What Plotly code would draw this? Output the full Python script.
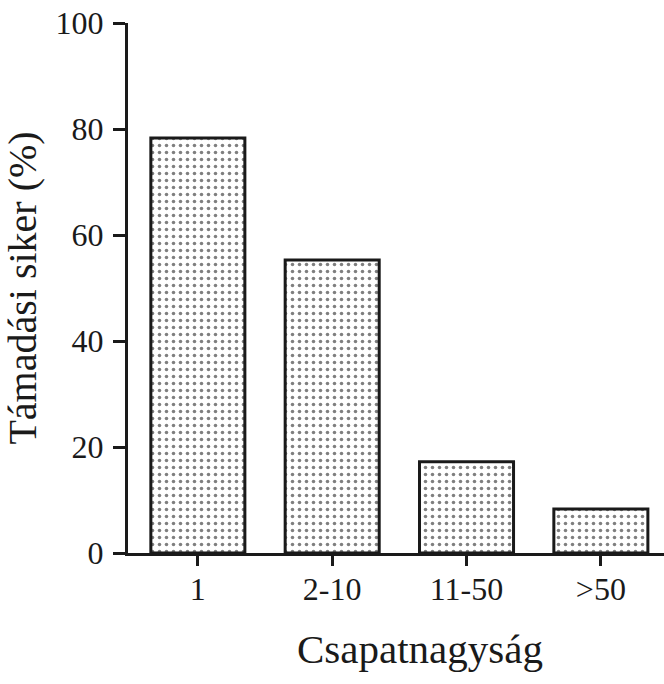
import plotly.graph_objects as go

categories = ["1", "2-10", "11-50", ">50"]
values = [78.3, 55.3, 17.2, 8.3]
y_ticks = [0, 20, 40, 60, 80, 100]
x_title = "Csapatnagyság"
y_title = "Támadási siker (%)"

FONT = "Liberation Serif, Times New Roman, serif"
INK = "#1a1a1a"

fig = go.Figure(
    go.Bar(
        x=list(range(len(categories))),
        y=values,
        width=0.7,
        marker=dict(
            color="white",
            line=dict(color=INK, width=3),
            pattern=dict(shape=".", fgcolor="#000000", bgcolor="white",
                         size=7, solidity=0.2),
        ),
    )
)

fig.update_layout(
    width=664, height=684,
    margin=dict(l=128, r=0, t=23, b=131),
    paper_bgcolor="white", plot_bgcolor="white",
    font=dict(family=FONT, size=32, color=INK),
    showlegend=False,
    xaxis=dict(
        range=[-0.52, 3.47],
        tickvals=list(range(len(categories))),
        ticktext=categories,
        automargin=False,
        showline=True, linecolor=INK, linewidth=3,
        ticks="outside", ticklen=10, tickwidth=3, tickcolor=INK,
        ticklabelstandoff=-4,
        showgrid=False, zeroline=False,
    ),
    yaxis=dict(
        range=[0, 100],
        tickvals=y_ticks,
        automargin=False,
        showline=True, linecolor=INK, linewidth=3,
        ticks="outside", ticklen=12, tickwidth=3, tickcolor=INK,
        ticklabelstandoff=3,
        showgrid=False, zeroline=False,
        title=dict(text=y_title, standoff=11, font=dict(size=40)),
    ),
    annotations=[
        dict(text=x_title, xref="paper", yref="paper", x=0.545, y=-0.181,
             xanchor="center", yanchor="middle", showarrow=False,
             font=dict(size=41, family=FONT, color=INK)),
    ],
)

fig.write_html(
    "out.html",
    config={"displayModeBar": False},
    post_script="document.body.style.margin='0';document.body.style.padding='0';",
)
